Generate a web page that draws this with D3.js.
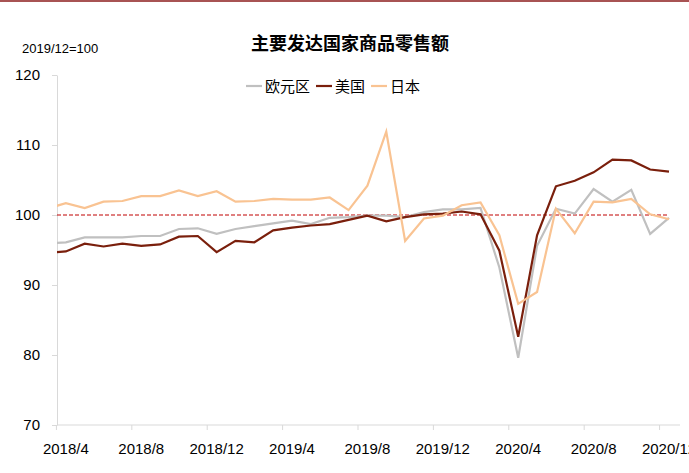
<!DOCTYPE html><html><head><meta charset="utf-8"><script src="https://cdn.jsdelivr.net/npm/d3@7"></script>
<style>body{margin:0;background:#fff}</style></head><body><svg id="c" width="689" height="473"></svg><script>
const months=["2018/3","2018/4","2018/5","2018/6","2018/7","2018/8","2018/9","2018/10","2018/11","2018/12","2019/1","2019/2","2019/3","2019/4","2019/5","2019/6","2019/7","2019/8","2019/9","2019/10","2019/11","2019/12","2020/1","2020/2","2020/3","2020/4","2020/5","2020/6","2020/7","2020/8","2020/9","2020/10","2020/11","2020/12"];
const euro=[95.9,96.1,96.8,96.8,96.8,97.0,97.0,98.0,98.1,97.3,98.0,98.4,98.8,99.2,98.7,99.6,99.7,99.9,99.9,99.7,100.4,100.8,100.8,101.0,92.5,79.6,95.6,100.9,100.2,103.7,101.9,103.6,97.3,99.6];
const us=[94.6,94.8,95.9,95.5,95.9,95.6,95.8,96.9,97.0,94.7,96.3,96.1,97.8,98.2,98.5,98.7,99.3,99.9,99.1,99.7,100.1,100.2,100.5,100.1,94.9,82.6,97.1,104.1,104.9,106.1,107.9,107.8,106.5,106.2];
const japan=[100.9,101.7,101.0,101.9,102.0,102.7,102.7,103.5,102.7,103.4,101.9,102.0,102.3,102.2,102.2,102.5,100.7,104.2,111.9,96.3,99.5,99.9,101.4,101.8,97.1,87.3,89.0,100.9,97.4,101.9,101.8,102.3,100.1,99.4];
const yTicks=[70,80,90,100,110,120];
const xLabels=["2018/4","2018/8","2018/12","2019/4","2019/8","2019/12","2020/4","2020/8","2020/12"];
const series=[{name:"欧元区",data:euro,color:"#C0C0C0"},{name:"美国",data:us,color:"#7A1F0C"},{name:"日本",data:japan,color:"#F9C392"}];
const svg=d3.select("#c");
const F="'Liberation Sans',Arial,sans-serif";
svg.append("line").attr("x1",0).attr("x2",689).attr("y1",1).attr("y2",1).attr("stroke","#8B1A1A").attr("stroke-width",1.5);
const x=d3.scalePoint().domain(months).range([47,669]);
const y=d3.scaleLinear().domain([70,120]).range([425,75]);
const L=57,R=680;
svg.append("defs").append("clipPath").attr("id","cp").append("rect").attr("x",L).attr("y",60).attr("width",R-L).attr("height",380);
// y axis
const ya=svg.append("g").attr("transform",`translate(${L},0)`).call(d3.axisLeft(y).tickValues(yTicks).tickSize(5).tickSizeOuter(0).tickPadding(12));
ya.select(".domain").attr("stroke","#d9d9d9");
ya.selectAll(".tick line").attr("stroke","#d9d9d9");
ya.selectAll("text").attr("font-family",F).attr("font-size",15).attr("fill","#000");
// x axis
svg.append("line").attr("x1",L).attr("x2",R).attr("y1",y(70)).attr("y2",y(70)).attr("stroke","#d9d9d9");
const step=x.step();
xLabels.forEach(m=>{const cx=x(m);
 svg.append("line").attr("x1",cx-step/2).attr("x2",cx-step/2).attr("y1",y(70)).attr("y2",y(70)+5).attr("stroke","#d9d9d9");
 svg.append("text").attr("x",cx).attr("y",454).attr("text-anchor","middle").attr("font-family",F).attr("font-size",15).text(m);});
// ref line
svg.append("line").attr("x1",L).attr("x2",669).attr("y1",y(100)).attr("y2",y(100)).attr("stroke","#C00000").attr("stroke-width",1).attr("stroke-dasharray","4,2");
const line=d3.line().x((d,i)=>x(months[i])).y(d=>y(d));
const g=svg.append("g").attr("clip-path","url(#cp)");
series.forEach(s=>g.append("path").datum(s.data).attr("d",line).attr("fill","none").attr("stroke",s.color).attr("stroke-width",2.2));
// redraw order: japan, euro under us? keep
svg.append("text").attr("x",350).attr("y",50).attr("text-anchor","middle").attr("font-family","'Noto Sans CJK SC',sans-serif").attr("font-weight","bold").attr("font-size",18).text("主要发达国家商品零售额");
svg.append("text").attr("x",22).attr("y",53).attr("font-family",F).attr("font-size",13).text("2019/12=100");
let lx=246;
series.forEach(s=>{svg.append("line").attr("x1",lx).attr("x2",lx+16).attr("y1",86).attr("y2",86).attr("stroke",s.color).attr("stroke-width",2.2);
 const t=svg.append("text").attr("x",lx+19).attr("y",92).attr("font-family","'Noto Sans CJK SC',sans-serif").attr("font-size",15).text(s.name);
 lx+=19+t.node().getComputedTextLength()+6;});
</script></body></html>
